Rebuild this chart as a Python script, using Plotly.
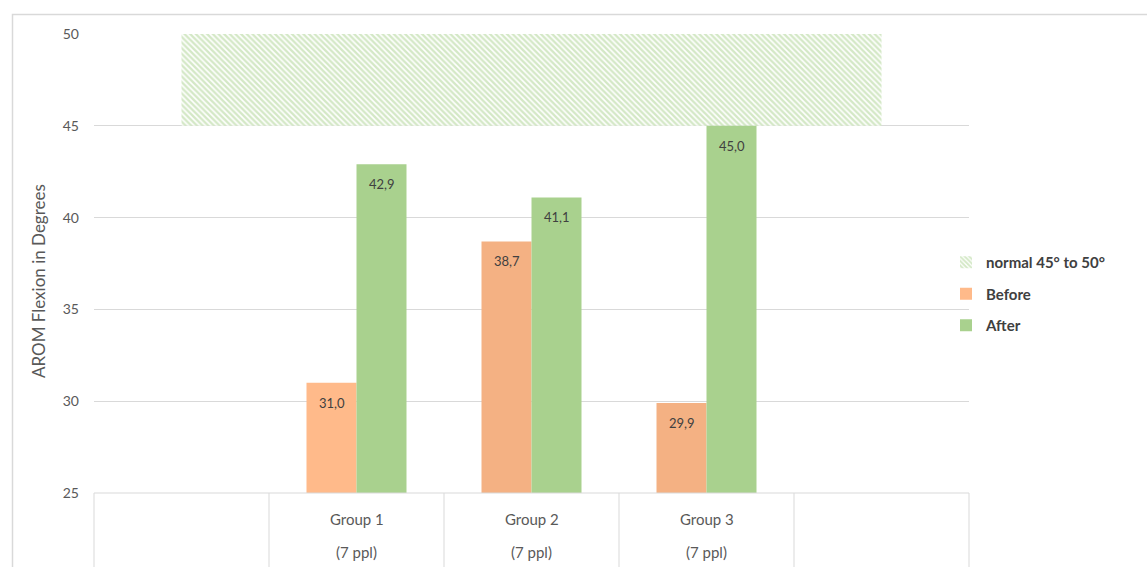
import plotly.graph_objects as go

# Category slots: an empty slot on each side frames the three groups
categories = ["", "Group 1", "Group 2", "Group 3", ""]
group_sizes = ["", "(7 ppl)", "(7 ppl)", "(7 ppl)", ""]
group_pos = [1, 2, 3]

before = [31.0, 38.7, 29.9]
after = [42.9, 41.1, 45.0]

normal_low = 45
normal_high = 50

before_colors = ["#FFBA8A", "#F4B183", "#F4B183"]
after_color = "#A9D18E"
text_color = "#404040"
axis_color = "#595959"
grid_color = "#D9D9D9"
font_family = "Lato, 'Open Sans', sans-serif"

W, H = 1147, 567
ML, MR, MT, MB = 94, 178, 34, 74
PW = W - ML - MR
PH = H - MT - MB

n_slots = len(categories)
bar_w = 0.2857


def px_x(px):
    return (px - ML) / PW


def px_y(py):
    return 1 - (py - MT) / PH


fig = go.Figure()

# Normal range band spanning from the first empty slot centre to the last
fig.add_trace(go.Bar(
    x=[(n_slots - 1) / 2], y=[normal_high - normal_low], base=[normal_low],
    width=[n_slots - 1], offset=[-(n_slots - 1) / 2],
    name="normal 45° to 50°", legendgroup="n",
    marker=dict(color="white", line=dict(width=0),
                pattern=dict(shape="\\", fgcolor="#A9D18E", bgcolor="white",
                             size=4, solidity=0.6)),
    hoverinfo="skip",
))

fig.add_trace(go.Bar(
    x=group_pos, y=before, name="Before", legendgroup="b",
    marker=dict(color=before_colors, line=dict(width=0)),
))
fig.add_trace(go.Bar(
    x=group_pos, y=after, name="After", legendgroup="a",
    marker=dict(color=after_color, line=dict(width=0)),
))

# Value labels just inside the top of each bar
for xs, vals, off in ((group_pos, before, -bar_w / 2), (group_pos, after, bar_w / 2)):
    for xv, v in zip(xs, vals):
        fig.add_annotation(
            x=xv + off, y=v, xref="x", yref="y",
            text=f"{v:.1f}".replace(".", ","), showarrow=False,
            yanchor="top", yshift=-10,
            font=dict(size=13, color=text_color, family=font_family),
        )

# Category table beneath the axis
for i, (c, s) in enumerate(zip(categories, group_sizes)):
    if c:
        fig.add_annotation(x=i, y=px_y(519), xref="x", yref="paper", text=c,
                           showarrow=False, yanchor="middle",
                           font=dict(size=15, color=axis_color, family=font_family))
        fig.add_annotation(x=i, y=px_y(552), xref="x", yref="paper", text=s,
                           showarrow=False, yanchor="middle",
                           font=dict(size=15, color=axis_color, family=font_family))

shapes = []
for i in range(n_slots + 1):
    xp = i / n_slots
    shapes.append(dict(type="line", xref="paper", yref="paper",
                       x0=xp, x1=xp, y0=0, y1=px_y(H + 5),
                       line=dict(color=grid_color, width=1)))
shapes.append(dict(type="line", xref="paper", yref="paper",
                   x0=0, x1=1, y0=0, y1=0, line=dict(color=grid_color, width=1)))
# Outer chart frame
shapes.append(dict(type="rect", xref="paper", yref="paper",
                   x0=px_x(12.5), x1=px_x(W + 10), y0=px_y(14.5), y1=px_y(H + 10),
                   line=dict(color="#D9D9D9", width=1.5), layer="below"))

fig.add_annotation(x=px_x(38), y=px_y(281), xref="paper", yref="paper",
                   xanchor="center", yanchor="middle",
                   text="AROM Flexion in Degrees", textangle=-90, showarrow=False,
                   font=dict(size=17, color=axis_color, family=font_family))

fig.update_layout(
    width=W, height=H,
    margin=dict(l=ML, r=MR, t=MT, b=MB),
    paper_bgcolor="white", plot_bgcolor="white",
    barmode="group", bargap=1 - 2 * bar_w, bargroupgap=0,
    shapes=shapes,
    showlegend=True,
    legend=dict(x=px_x(946), y=px_y(246), xanchor="left", yanchor="top",
                tracegroupgap=9, bgcolor="rgba(0,0,0,0)",
                font=dict(size=15, color=text_color, family="Lato, sans-serif", weight="bold")),
    font=dict(family=font_family, color=axis_color),
)

fig.update_xaxes(range=[-0.5, n_slots - 0.5], showticklabels=False, showgrid=False,
                 zeroline=False, showline=False, ticks="")
fig.update_yaxes(range=[25, 50], dtick=5, showgrid=True, gridcolor=grid_color,
                 gridwidth=1, zeroline=False, showline=False, ticks="",
                 ticklabelstandoff=14,
                 tickfont=dict(size=14, color=axis_color, family=font_family))

fig.write_html("out.html")
